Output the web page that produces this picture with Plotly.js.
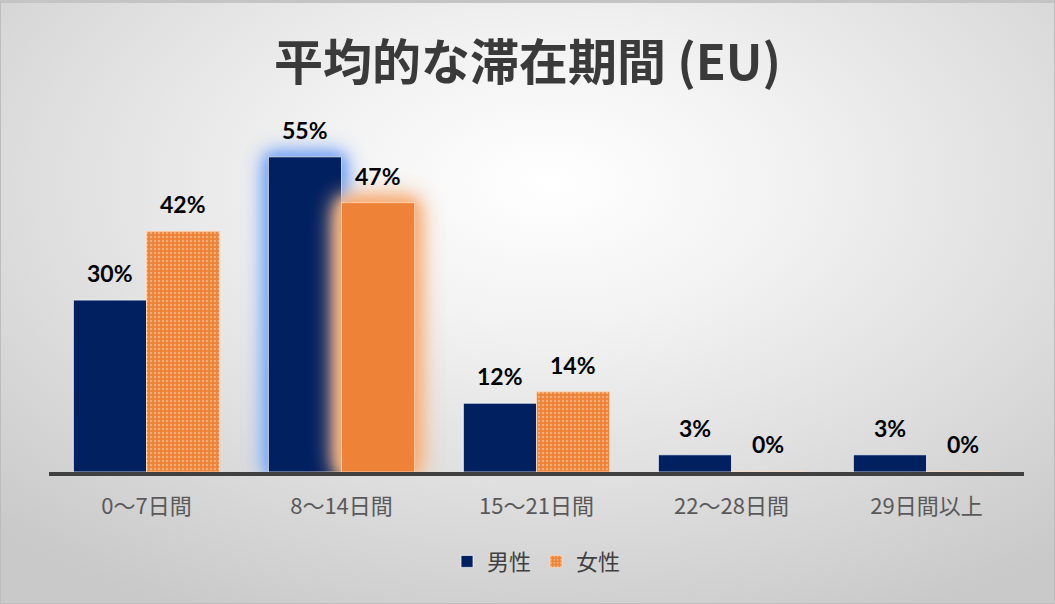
<!DOCTYPE html>
<html><head><meta charset="utf-8">
<script src="https://cdn.plot.ly/plotly-3.0.1.min.js"></script>
<style>
html,body{margin:0;padding:0;}
#wrap{width:1055px;height:604px;box-sizing:border-box;border:1px solid #bdbdbd;border-top:3px solid #c4c4c4;
background:radial-gradient(ellipse 75% 80% at 52% 30%, #ffffff 0%, #f2f2f2 30%, #dedede 65%, #c9c9c9 100%);}
#chart{width:1053px;height:600px;}
</style></head><body>
<div id="wrap"><div id="chart"></div></div>
<script>
const categories = ["0～7日間","8～14日間","15～21日間","22～28日間","29日間以上"];
const male = [0.30, 0.55, 0.12, 0.03, 0.03];
const female = [0.42, 0.47, 0.14, 0.00, 0.00];
const seriesNames = ["男性","女性"];
const labelFont = {family:"Lato, 'Noto Sans CJK JP', sans-serif", size:23, color:"#000000", weight:700};
const pct = v => Math.round(v*100) + "%";
const traces = [
 {type:"bar", name:seriesNames[0], x:categories, y:male,
  marker:{color:"#002060", line:{color:"rgba(255,255,255,0.7)", width:1}}},
 {type:"bar", name:seriesNames[1], x:categories, y:female,
  marker:{color:"#EE8236", line:{color:"rgba(255,220,190,0.8)", width:1},
   pattern:{shape:[".","",".",".","."], fgcolor:"#F5AE78", bgcolor:"#EE8236", size:4, solidity:0.3, fillmode:"replace"}}}
];
const annotations = [];
[male, female].forEach((vals, s) => {
  vals.forEach((v, i) => {
    annotations.push({x:categories[i], y:v, xref:"x", yref:"y", text:"<b>"+pct(v)+"</b>",
      showarrow:false, yanchor:"bottom", xanchor:"center", xshift:(s===0?-36.5:36.5), yshift:v===0?12:11,
      font:labelFont});
  });
});
const layout = {
 width:1053, height:600,
 paper_bgcolor:"rgba(0,0,0,0)", plot_bgcolor:"rgba(0,0,0,0)",
 margin:{l:48, r:30, t:108, b:131},
 title:{text:"<b>平均的な滞在期間 (EU)</b>", x:0.5, xanchor:"center", y:0.9, yanchor:"middle",
   font:{family:"'Noto Sans CJK JP', sans-serif", size:49, color:"#3a3a3a"}},
 barmode:"group", bargap:0.25, bargroupgap:0,
 xaxis:{showline:true, linecolor:"#404040", linewidth:4, ticks:"", showgrid:false,
   tickfont:{family:"'Noto Sans CJK JP', sans-serif", size:22, color:"#595959"}, ticklabelstandoff:12},
 yaxis:{visible:false, range:[0,0.63], showgrid:false, zeroline:false},
 annotations:annotations,
 showlegend:true,
 legend:{orientation:"h", x:0.5, xanchor:"center", y:-0.19, yanchor:"top",
   font:{family:"'Noto Sans CJK JP', sans-serif", size:22, color:"#404040"}, itemwidth:30, traceorder:"normal"}
};
Plotly.newPlot("chart", traces, layout, {displayModeBar:false, staticPlot:true}).then(() => {
  const groups = document.querySelectorAll(".barlayer .trace");
  const glow = ["drop-shadow(0 0 7px #6f9cf0) drop-shadow(0 0 10px #8fb4f5) drop-shadow(0 0 5px #a9c5f7)",
                "drop-shadow(0 0 8px #f4a66a) drop-shadow(0 0 11px #f7b98a) drop-shadow(0 0 5px #f7c29a)"];
  groups.forEach((g, ti) => {
    const pts = g.querySelectorAll(".point path");
    const idx = categories.indexOf("8～14日間");
    if (pts[idx]) pts[idx].style.filter = glow[ti];
  });
});
</script></body></html>
